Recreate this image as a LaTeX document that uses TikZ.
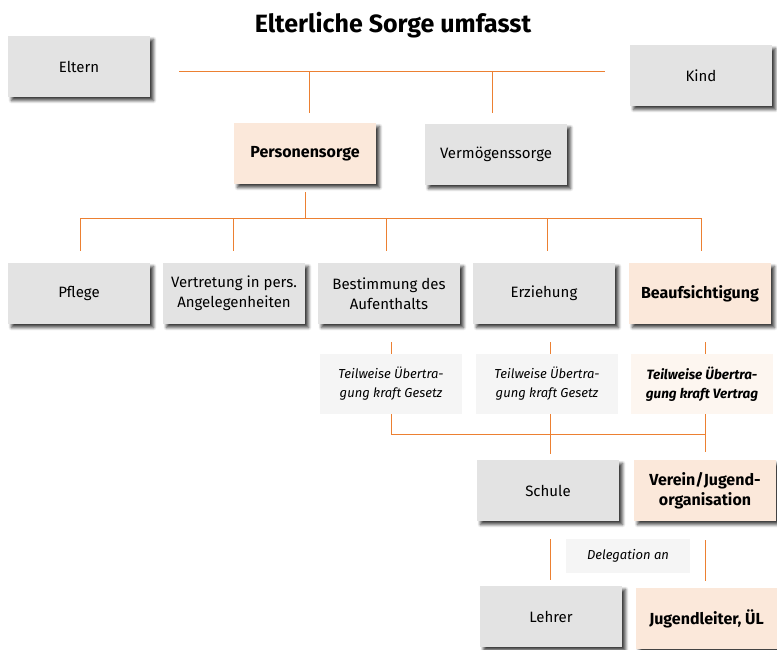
\documentclass[tikz,border=0pt]{standalone}
\usepackage{fontspec}
\setmainfont{Fira Sans}
\usetikzlibrary{shadows.blur}
\definecolor{boxgray}{RGB}{227,227,227}
\definecolor{boxpeach}{RGB}{251,232,218}
\definecolor{lightgray}{RGB}{245,245,245}
\definecolor{lightpeach}{RGB}{253,246,240}
\definecolor{lineorange}{RGB}{236,128,50}
\tikzset{
  box/.style={rectangle, minimum width=142pt, minimum height=61pt, inner sep=2pt,
    align=center, font=\fontsize{15}{20}\selectfont,
    blur shadow={shadow xshift=3.5pt, shadow yshift=-3.5pt, shadow blur steps=6, shadow blur radius=3pt, shadow opacity=75}},
  graybox/.style={box, fill=boxgray},
  peachbox/.style={box, fill=boxpeach, font=\fontsize{16}{20}\selectfont\bfseries},
  notebox/.style={rectangle, minimum width=142pt, minimum height=60pt, inner sep=2pt,
    align=center, fill=lightgray, font=\fontsize{13}{19}\selectfont\itshape},
  conn/.style={draw=lineorange, line width=1pt},
}
\begin{document}
\begin{tikzpicture}[x=1pt,y=-1pt]
\useasboundingbox (0,0) rectangle (777,649);
\node[font=\fontsize{25}{27}\selectfont\bfseries] (title) at (393,25) {Elterliche Sorge umfasst};
\node[graybox] (eltern) at (79,66.5) {Eltern};
\node[graybox] (kind) at (701,75.5) {Kind};
\node[peachbox] (pers) at (305,153.5) {Personensorge};
\node[graybox] (verm) at (496,154.5) {Vermögenssorge};
\node[graybox] (pflege) at (79,293.5) {Pflege};
\node[graybox] (vertr) at (234,293.5) {Vertretung in pers.\\Angelegenheiten};
\node[graybox] (best) at (389,293.5) {Bestimmung des\\Aufenthalts};
\node[graybox] (erz) at (544,293.5) {Erziehung};
\node[peachbox] (beauf) at (700,293.5) {Beaufsichtigung};
\node[notebox] (tw1) at (391,384) {Teilweise Übertra-\\gung kraft Gesetz};
\node[notebox] (tw2) at (547,384) {Teilweise Übertra-\\gung kraft Gesetz};
\node[notebox, fill=lightpeach, font=\fontsize{13.5}{19}\selectfont\itshape\bfseries] (tw3) at (702,384) {Teilweise Übertra-\\gung kraft Vertrag};
\node[graybox] (schule) at (548,490.5) {Schule};
\node[peachbox] (verein) at (705,490.5) {Verein/Jugend-\\organisation};
\node[notebox, minimum width=124pt, minimum height=34pt] (deleg) at (628,556) {Delegation an};
\node[graybox] (lehrer) at (551,616.5) {Lehrer};
\node[peachbox] (jugend) at (706.5,618.5) {Jugendleiter, ÜL};
% top connector
\coordinate (tl) at (179,71);
\coordinate (tr) at (605,71);
\coordinate (tp) at (309,71);
\coordinate (tv) at (492,71);
\draw[conn] (tl) -- (tr);
\draw[conn] (tp) -- (309,113);
\draw[conn] (tv) -- (492,113);
% Personensorge fan-out
\coordinate (pj) at (305,218);
\draw[conn] (pers.south) ++(0,8) -- (pj);
\draw[conn] (80,218) -- (701,218);
\foreach \xx in {80,233,386,547,701} \draw[conn] (\xx,218) -- (\xx,251);
% row to notes
\draw[conn] (tw1.north) -- ++(0,-12);
\draw[conn] (tw2.north) ++(3,0) -- ++(0,-12);
\draw[conn] (tw3.north) ++(3,0) -- ++(0,-12);
% notes to schule/verein
\coordinate (j1) at (391,434);
\coordinate (j3) at (705,434);
\draw[conn] (tw1.south) -- (j1) -- (j3);
\draw[conn] (550,414) -- (550,454);
\draw[conn] (705,414) -- (705,452);
% delegation
\draw[conn] (550,539) -- (550,580);
\draw[conn] (705,540) -- (705,581);
\end{tikzpicture}
\end{document}
